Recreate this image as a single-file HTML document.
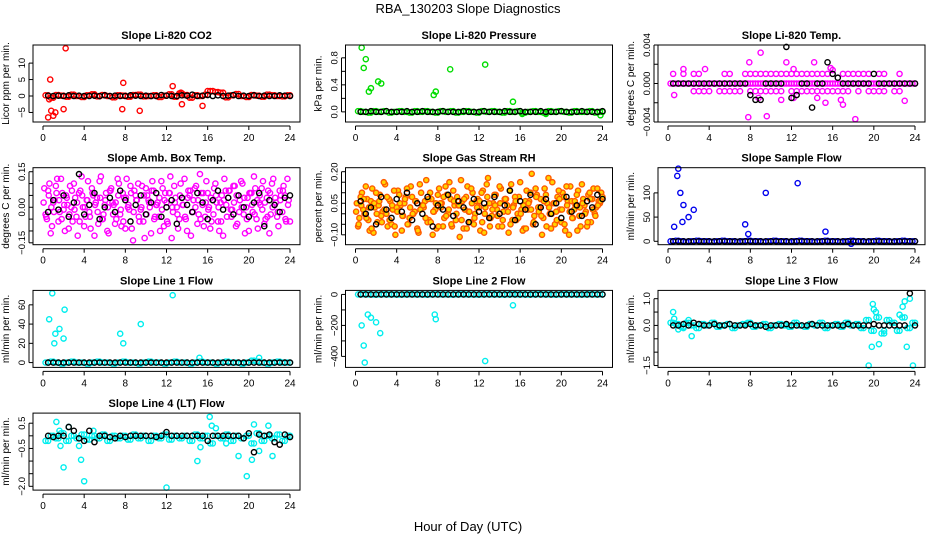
<!DOCTYPE html>
<html><head><meta charset="utf-8"><style>
html,body{margin:0;padding:0;background:#fff}
svg{display:block;font-family:"Liberation Sans",Arial,sans-serif}
</style></head><body>
<svg id="c" width="936" height="540" viewBox="0 0 936 540">
<text x="468" y="13" text-anchor="middle" font-size="13">RBA_130203  Slope Diagnostics</text>
<text x="468" y="531" text-anchor="middle" font-size="13">Hour of Day (UTC)</text>
</svg>
<script>
const xTicks=[0,4,8,12,16,20,24];
// P1 CO2
const p1Band=[0.2,-0.5,0.3,0.1,-0.2,0.4,0,-0.3,0.2,0.5,-0.1,0.3,0,-0.4,0.2,0.1,-0.2,0.3,0.4,-0.1,0,0.2,-0.3,0.1,0.5,-0.2,0.8,0.3,-0.5,0.2,0,0.4,1.5,1.2,1.0,-0.4,0.2,0.6,0,-0.3,0.3,0.1,-0.2,0.4,0.2,0,-0.1,0.2];
const p1OutH=[0.5,0.6,0.7,0.8,1.0,1.2,2.0,2.2,7.8,7.7,9.4,12.6,13.5,15.5,16.0,13.4];
const p1OutV=[-6.5,-1,5,-4.5,-6,-5,-4,14.5,4,-4,-4.5,3,-2.5,-3,1.5,1];
const p1Black=[0.1,0,0.1,0,0.2,0,0.1,0,0,0.1,0,0.2,0,0.1,0,0,0.2,0.1,0,0.1,0,0,0.3,0.1,0,0,0.2,0.1,0.4,0,0.1,0.3,0,0.2,0,0.1,0.3,0,0.1,0,0.2,0,0.1,0,0,0.2,0.1,0];
// P2 Pressure
const p2Band=[0.01,0,-0.01,0.01,0,0.01,-0.01,0,0.01,0,-0.01,0.01,0,0.01,0,-0.01,0.01,0,0.01,-0.01,0,0.01,0,-0.01,0.01,0,0.01,0,-0.01,0.01,0,0.01,-0.01,0,0.01,0,-0.01,0.01,0,0.01,0,-0.01,0.01,0,0,0.01,-0.01,0];
const p2OutH=[0.6,0.8,1.0,1.3,1.5,2.2,2.5,7.6,7.8,9.2,12.6,15.3,16.2,18.5,23.8];
const p2OutV=[0.95,0.65,0.78,0.3,0.35,0.45,0.42,0.25,0.3,0.63,0.7,0.15,-0.03,-0.03,-0.05];
const p2Black=[0,0,0.01,0,0,0.01,0,0,0,0.01,0,0,0.01,0,0,0,0.01,0,0,0,0.01,0,0,0,0.01,0,0,0,0.01,0,0,0.01,0,0,0,0.01,0,0,0,0.01,0,0,0,0.01,0,0,0,0.01];
// P3 Temp
const p3Band=[0,0,0,0,0,0,0,0,0,0,0,0,0,0,0,0,0,0,0,0,0,0,0,0,0,0,0,0,0,0,0,0,0,0,0,0,0,0,0,0,0,0,0,0,0,0,0,0];
const p3OutH=[0.5,1.5,2.5,3,5.5,6,7.5,8,8.5,9,9.5,10,10.5,11,11.5,12,12.5,13,13.5,14,14.5,15,15.5,17,17.5,18,18.5,19,19.5,20.5,21,22.5,2.5,3,3.5,4,5,5.5,6,6.5,7,8,8.5,9,9.5,10,10.5,11,12,12.5,13,13.5,14,14.5,15,15.5,16,16.5,17,17.5,18.5,19.5,20,20.5,21,22,22.5,1.5,3.6,7.8,9.0,8.8,11.5,14.2,14.5,16.0,15.8,17.0,16.8,12.2,7.9,18.2,23.0,0.6,12.2,9.6,11.0,15.3];
const p3OutV=[0.001,0.001,0.001,0.001,0.001,0.001,0.001,0.001,0.001,0.001,0.001,0.001,0.001,0.001,0.001,0.001,0.001,0.001,0.001,0.001,0.001,0.001,0.001,0.001,0.001,0.001,0.001,0.001,0.001,0.001,0.001,0.001,-0.0008,-0.0008,-0.0008,-0.0008,-0.0008,-0.0008,-0.0008,-0.0008,-0.0008,-0.0008,-0.0008,-0.0008,-0.0008,-0.0008,-0.0008,-0.0008,-0.0008,-0.0008,-0.0008,-0.0008,-0.0008,-0.0008,-0.0008,-0.0008,-0.0008,-0.0008,-0.0008,-0.0008,-0.0008,-0.0008,-0.0008,-0.0008,-0.0008,-0.0008,-0.0008,0.0015,0.0015,-0.0035,0.0032,-0.0015,0.0022,0.0022,-0.0015,0.0014,0.0016,-0.0022,-0.0017,-0.0015,0.0022,-0.0037,-0.0018,-0.0012,0.0015,-0.0034,-0.0017,-0.002,-0.0006];
const p3Black=[0,0,0,0,0,0,0,0,0,0,0,0,0,0,0,-0.0012,-0.0017,-0.0017,0,0,0,0,0.0038,-0.0015,-0.0012,0,0,-0.0025,0,0,0.0022,0.001,0.0006,0,0,0,0,0,0,0.001,0,0,0,0,0,0,0,0];
// P4 Amb Box
const p4A=[0.08,-0.05,0.10,-0.08,0.03,0.12,-0.02,0.06,-0.10,0.01,0.09,-0.06,0.04,-0.12,0.07,0.00,-0.04,0.11,-0.09,0.05,0.02,-0.07,0.13,-0.03,0.06,-0.11,0.08,0.01,-0.05,0.10,-0.08,0.04,0.12,-0.01,-0.09,0.07,0.03,-0.06,0.09,-0.13,0.05,0.00,0.11,-0.04,0.02,-0.10,0.08,0.06,-0.07,0.13,-0.02,0.04,-0.09,0.10,0.01,-0.05,0.07,-0.12,0.03,0.09,-0.03,0.06,-0.08,0.11,0.00,-0.06,0.08,0.02,-0.10,0.05,0.12,-0.04,0.07,-0.01,0.09,-0.07,0.03,0.10,-0.11,0.04,0.06,-0.02,0.08,-0.09,0.01,0.11,-0.05,0.07,-0.03,0.12,0.02,-0.08,0.05,0.09,-0.06,0.03];
const p4B=[-0.03,0.07,-0.11,0.02,0.09,-0.06,0.12,-0.01,0.05,-0.09,0.00,0.10,-0.04,0.06,0.13,-0.08,0.03,-0.02,0.08,-0.12,0.04,0.11,-0.05,0.01,-0.10,0.07,0.02,-0.07,0.12,-0.03,0.06,-0.09,0.00,0.09,-0.14,0.05,0.10,-0.01,-0.06,0.08,0.03,-0.11,0.07,0.01,-0.04,0.11,-0.08,0.02,0.06,-0.13,0.09,0.00,-0.05,0.04,0.12,-0.10,0.05,-0.02,0.08,-0.07,0.14,0.01,-0.04,0.06,-0.09,0.03,0.10,-0.06,0.02,-0.12,0.07,0.04,-0.01,0.09,-0.08,0.05,0.11,-0.03,0.00,-0.10,0.06,0.13,-0.05,0.02,0.08,-0.07,0.04,-0.11,0.10,0.01,-0.04,0.07,-0.02,0.05,0.12,-0.06];
const p4C=[0.02,-0.04,0.05,0.00,-0.02,0.06,0.03,-0.05,0.01,0.04,-0.03,0.07,-0.01,0.02,-0.06,0.05,0.00,0.03,-0.04,0.06,0.01,-0.02,0.04,-0.05,0.03,0.00,0.07,-0.03,0.02,0.05,-0.01,-0.06,0.04,0.01,0.06,-0.02,0.03,-0.04,0.00,0.05,-0.03,0.02,0.07,-0.05,0.01,0.04,-0.01,0.03,-0.06,0.06,0.00,0.02,-0.03,0.05,0.01,-0.04,0.04,0.07,-0.02,0.00,0.03,-0.05,0.06,0.02,-0.01,0.04,-0.03,0.05,0.00,-0.06,0.03,0.01,0.07,-0.04,0.02,0.05,-0.02,0.00,0.04,-0.05,0.06,0.01,-0.03,0.03,0.05,-0.01,0.02,-0.04,0.06,0.00,0.04,-0.02,0.03,0.07,-0.05,0.01];
const p4Black=[-0.02,0.03,-0.01,0.05,-0.04,0.02,0.14,-0.03,0.01,0.06,-0.05,0.00,0.04,-0.02,0.07,0.03,-0.06,0.01,0.05,-0.03,0.02,0.06,-0.04,0.00,0.03,-0.07,0.04,0.01,-0.02,0.06,0.02,-0.05,0.03,0.07,-0.01,0.04,-0.03,0.05,0.00,-0.04,0.02,0.06,-0.08,0.03,0.01,-0.02,0.04,0.05];
// P5 RH
const p5A=[0.05,-0.02,0.10,0.00,0.07,-0.08,0.12,0.03,-0.04,0.09,0.01,0.14,-0.06,0.06,0.02,-0.10,0.11,0.04,-0.01,0.08,-0.05,0.13,0.00,0.06,-0.09,0.10,0.03,0.16,-0.03,0.07,0.01,-0.07,0.12,0.05,-0.02,0.09,0.15,-0.06,0.04,0.08,-0.11,0.06,0.02,0.13,-0.04,0.10,0.00,0.07,-0.08,0.11,0.03,0.17,-0.02,0.05,0.09,-0.06,0.12,0.01,0.07,-0.09,0.14,0.04,-0.03,0.08,0.02,-0.07,0.11,0.06,0.19,-0.01,0.09,0.03,-0.10,0.12,0.05,0.00,0.15,-0.05,0.08,0.02,0.10,-0.08,0.06,0.13,-0.02,0.04,0.11,-0.06,0.07,0.01,0.09,-0.04,0.12,0.03,0.06,0.10];
const p5B=[-0.06,0.08,0.02,0.13,-0.03,0.06,-0.09,0.10,0.04,-0.01,0.15,0.00,0.07,-0.05,0.11,0.03,0.09,-0.08,0.05,0.12,-0.02,0.08,0.01,-0.07,0.14,0.04,0.06,-0.04,0.10,-0.10,0.02,0.09,0.05,-0.06,0.13,0.00,0.07,0.11,-0.03,0.04,0.16,-0.07,0.08,0.01,0.12,-0.05,0.06,0.03,0.10,-0.09,0.14,0.05,-0.01,0.09,0.02,0.13,-0.06,0.07,0.04,0.11,-0.03,0.08,0.00,0.15,-0.08,0.06,0.02,0.10,-0.05,0.12,0.03,0.07,-0.02,0.09,0.17,-0.07,0.05,0.01,0.11,-0.04,0.08,0.13,-0.10,0.06,0.02,0.09,-0.01,0.14,0.04,-0.06,0.10,0.07,0.00,0.12,0.05,0.08];
const p5C=[0.01,-0.05,0.04,0.07,-0.02,0.03,-0.07,0.05,0.00,0.06,-0.04,0.02,0.08,-0.03,0.04,-0.06,0.01,0.05,-0.01,0.07,-0.05,0.03,0.00,0.06,-0.08,0.02,0.04,-0.02,0.07,-0.04,0.01,0.05,-0.06,0.03,0.08,-0.01,0.02,-0.05,0.06,0.00,0.04,-0.03,0.07,-0.07,0.01,0.05,-0.02,0.03,0.06,-0.04,0.00,0.08,-0.06,0.02,0.04,-0.01,0.05,-0.03,0.07,0.01,-0.05,0.03,0.06,-0.02,0.00,0.04,-0.07,0.05,0.02,-0.04,0.08,0.01,-0.01,0.06,-0.06,0.03,0.00,0.05,-0.03,0.07,0.02,-0.05,0.04,0.01,-0.02,0.06,-0.08,0.03,0.05,0.00,-0.04,0.07,0.02,-0.01,0.04,0.06];
const p5Black=[0.06,0.00,0.03,-0.05,0.08,0.02,-0.02,0.07,0.01,0.10,-0.03,0.05,0.00,0.08,-0.06,0.04,0.02,0.09,-0.01,0.06,0.03,-0.04,0.07,0.01,0.05,-0.02,0.08,0.00,0.04,0.11,-0.03,0.06,0.02,0.09,-0.05,0.03,0.07,0.00,0.05,-0.02,0.08,0.01,0.04,-0.01,0.06,0.03,0.09,0.07];
// P6 Sample flow
const p6Band=[0,1,0,-1,0,1,0,0,-1,0,1,0,0,-1,0,1,0,0,-1,0,1,0,0,-1,0,1,0,0,-1,0,1,0,0,-1,0,1,0,0,-1,0,1,0,0,-1,0,1,0,0];
const p6OutH=[0.6,0.9,1.0,1.2,1.4,1.5,2.0,2.5,7.5,7.8,9.5,12.6,15.3,17.8];
const p6OutV=[30,135,150,100,40,75,50,65,35,15,100,120,20,-5];
const p6Black=[0,0,0,0,0,0,0,0,0,0,0,0,0,0,0,0,0,0,0,0,0,0,0,0,0,0,0,0,0,0,0,0,0,0,0,0,0,0,0,0,0,0,0,0,0,0,0,0];
// P7 Line1
const p7Band=[0,1,0,-1,0,1,0,0,-1,0,1,0,0,-1,0,1,0,0,-1,0,1,0,0,-1,0,1,0,0,-1,0,1,0,0,-1,0,1,0,0,-1,0,2,1,0,-1,0,1,0,0];
const p7OutH=[0.6,0.9,1.1,1.2,1.6,2.0,2.1,7.5,7.8,9.5,12.6,15.2,21.0];
const p7OutV=[45,72,20,30,35,25,55,30,20,40,70,5,5];
const p7Black=[0,0,0,0,0,0,0,0,0,0,0,0,0,0,0,0,0,0,0,0,0,0,0,0,0,0,0,0,0,0,0,0,0,0,0,0,0,0,0,0,0,0,0,0,0,0,0,0];
// P8 Line2
const p8Band=[0,1,0,-1,0,1,0,0,-1,0,1,0,0,-1,0,1,0,0,-1,0,1,0,0,-1,0,1,0,0,-1,0,1,0,0,-1,0,1,0,0,-1,0,1,0,0,-1,0,1,0,0];
const p8OutH=[0.6,0.9,1.2,1.5,2.0,2.4,7.7,7.8,12.6,15.3,0.8];
const p8OutV=[-200,-440,-130,-150,-180,-250,-130,-160,-430,-70,-330];
const p8Black=[0,0,0,0,0,0,0,0,0,0,0,0,0,0,0,0,0,0,0,0,0,0,0,0,0,0,0,0,0,0,0,0,0,0,0,0,0,0,0,0,0,0,0,0,0,0,0,0];
// P9 Line3
const p9Band=[0.1,0.05,-0.05,0.1,0,-0.1,0.05,0,0.1,-0.05,0,0.05,-0.1,0,0.05,0.1,-0.05,0,0.05,-0.1,0,0.05,0,-0.05,0.1,0,-0.05,0.05,0,0.1,-0.1,0,0.05,-0.05,0.1,0,0.05,-0.1,0.2,-0.2,0.3,-0.3,0.2,0.1,-0.2,0.3,-0.1,0.1];
const p9OutH=[0.5,0.6,1.0,1.5,2.0,2.3,19.5,19.8,20.0,20.2,20.5,21.0,22.5,23.0,23.2,23.5,23.8,19.9,22.8];
const p9OutV=[0.5,0.25,-0.15,-0.1,0.2,-0.4,-1.5,-0.8,0.6,0.5,-0.7,-0.2,0.4,0.9,-0.8,1.0,-1.5,0.8,0.7];
const p9Black=[0,0,0.05,0,0.1,0.05,0,0,0.05,0,0,0.05,0,0,0,0.05,0,0,-0.05,0,0,0,0.05,0,0,0,0,0.05,0,0,0,0,0,0,0.05,0,0,0,0,0.05,0,0,0,0,0,0,1.2,0];
// P10 Line4
const p10Band=[-0.2,0,-0.1,0.1,-0.2,0,-0.1,0.05,-0.15,0,-0.1,0.05,-0.2,0,-0.1,0,-0.15,0.05,-0.1,0,-0.2,0,-0.1,0.05,-0.15,0,-0.1,0,-0.2,0.05,-0.1,0,-0.3,0,-0.1,0.05,-0.2,0,-0.1,0,-0.3,0.1,-0.2,0,-0.1,0.05,-0.2,0];
const p10OutH=[1.3,1.7,2.0,2.5,3.5,3.7,4.0,15.0,15.3,16.2,16.4,16.8,17.8,19.0,19.8,20.3,20.5,21.0,21.9,22.3,12.0,1.6,4.9];
const p10OutV=[0.55,-0.4,-1.25,0.35,-0.4,-0.95,-1.8,-1.0,-0.45,0.75,0.4,0.3,-0.3,-0.8,-1.6,-0.95,0.45,-0.6,0.4,-0.8,-2.05,0.2,0.2];
const p10Black=[0,-0.05,0,0,0.35,0.2,-0.1,-0.2,0.2,-0.25,0,0,-0.05,-0.1,0,-0.05,0,0,0,0,0,-0.05,0,0.15,0,0,0,0,0,0,0,-0.2,0,0,0,0,0,0,-0.1,0.1,-0.65,0.05,0,0.05,-0.25,-0.35,0.05,-0.05];

const panels=[
 {t:"Slope Li-820 CO2",yl:"Licor ppm per min.",y:[-7.9,15.5],ticks:[-5,0,5,10],labs:["\u22125","0","5","10"],col:"#ff0000",band:p1Band,oh:p1OutH,ov:p1OutV,blk:p1Black},
 {t:"Slope Li-820 Pressure",yl:"kPa per min.",y:[-0.15,0.99],ticks:[0,0.2,0.4,0.6,0.8],labs:["0.0","","0.4","","0.8"],col:"#00dd00",band:p2Band,oh:p2OutH,ov:p2OutV,blk:p2Black},
 {t:"Slope Li-820 Temp.",yl:"degrees C per min.",y:[-0.004,0.004],ticks:[-0.004,-0.002,0,0.002,0.004],labs:["\u22120.004","","0.000","","0.004"],col:"#ff00ff",band:p3Band,oh:p3OutH,ov:p3OutV,blk:p3Black},
 {t:"Slope Amb. Box Temp.",yl:"degrees C per min.",y:[-0.158,0.167],ticks:[-0.15,-0.1,-0.05,0,0.05,0.1,0.15],labs:["\u22120.15","","","0.00","","","0.15"],col:"#ff00ff",a:p4A,b:p4B,c:p4C,blk:p4Black},
 {t:"Slope Gas Stream RH",yl:"percent per min.",y:[-0.147,0.219],ticks:[-0.1,-0.05,0,0.05,0.1,0.15,0.2],labs:["\u22120.10","","","0.05","","","0.20"],col:"#ff5a00",fill:"#ffd400",a:p5A,b:p5B,c:p5C,blk:p5Black},
 {t:"Slope Sample Flow",yl:"ml/min per min.",y:[-7,152],ticks:[0,50,100],labs:["0","50","100"],col:"#0000ee",band:p6Band,oh:p6OutH,ov:p6OutV,blk:p6Black},
 {t:"Slope Line 1 Flow",yl:"ml/min per min.",y:[-5,75],ticks:[0,20,40,60],labs:["0","20","40","60"],col:"#00eeee",band:p7Band,oh:p7OutH,ov:p7OutV,blk:p7Black},
 {t:"Slope Line 2 Flow",yl:"ml/min per min.",y:[-471,26],ticks:[0,-100,-200,-300,-400],labs:["0","","\u2212200","","\u2212400"],col:"#00eeee",band:p8Band,oh:p8OutH,ov:p8OutV,blk:p8Black},
 {t:"Slope Line 3 Flow",yl:"ml/min per min.",y:[-1.57,1.31],ticks:[-1.5,-1,-0.5,0,0.5,1],labs:["\u22121.5","","","0.0","","1.0"],col:"#00eeee",band:p9Band,oh:p9OutH,ov:p9OutV,blk:p9Black},
 {t:"Slope Line 4 (LT) Flow",yl:"ml/min per min.",y:[-2.15,0.9],ticks:[0.5,0,-0.5,-1,-1.5,-2],labs:["0.5","","\u22120.5","","","\u22122.0"],col:"#00eeee",band:p10Band,oh:p10OutH,ov:p10OutV,blk:p10Black}
];
const svg=document.getElementById('c');
const NS="http://www.w3.org/2000/svg";
function mk(tag,attrs,parent){const e=document.createElementNS(NS,tag);for(const k in attrs)e.setAttribute(k,attrs[k]);parent.appendChild(e);return e;}
panels.forEach((p,i)=>{
 const col=i%3,row=Math.floor(i/3);
 const L=33+col*312.5,R=L+267,T=45+row*122.7,B=T+77;
 const xs=h=>L+10+h*(247/24);
 const ys=v=>B-(v-p.y[0])/(p.y[1]-p.y[0])*(B-T);
 const g=mk('g',{},svg);
 
 
 const tt=mk('text',{x:(L+R)/2,y:T-6,'text-anchor':'middle','font-size':'11','font-weight':'bold'},g);
 tt.textContent=p.t;
 
 
 const yl=mk('text',{x:0,y:0,'text-anchor':'middle','font-size':'10',transform:`translate(${L-24},${(T+B)/2}) rotate(-90)`},g);
 yl.textContent=p.yl;
 
 
 const pts=mk('g',{fill:'none','stroke-width':'1.4'},g);
 
 
 function dot(h,v,c,name,f){
  const yy=ys(v); if(yy<T-3||yy>B+3)return;
  const d=mk('circle',{cx:xs(h),cy:yy,r:2.6,stroke:c,fill:f||'none'},pts);
  
  
 }
 if(p.a){
  p.a.forEach((v,k)=>dot(0.125+k*0.25,v,p.col,'point',p.fill));
  p.b.forEach((v,k)=>dot(0.25+k*0.25,v,p.col,'point',p.fill));
  p.c.forEach((v,k)=>dot(0.06+k*0.25,v,p.col,'point',p.fill));
 } else {
  p.band.forEach((v,k)=>{dot(0.25+k*0.5,v,p.col,'point');dot(0.5+k*0.5,v,p.col,'point');});
  p.oh.forEach((h,k)=>dot(h,p.ov[k],p.col,'outlier-point'));
 }
 p.blk.forEach((v,k)=>dot(0.5+k*0.5,v,'#000','black-point'));
 const bx=mk('rect',{x:L,y:T,width:R-L,height:B-T,fill:'none',stroke:'#000','stroke-width':'1'},g);
 
 
 p.ticks.forEach((v,k)=>{
  const yy=ys(v);
  mk('line',{x1:L-4,x2:L,y1:yy,y2:yy,stroke:'#000'},g);
  if(p.labs[k]){const t=mk('text',{x:0,y:0,'text-anchor':'middle','font-size':'9.5',transform:`translate(${L-8},${yy}) rotate(-90)`},g);t.textContent=p.labs[k];
  
  }
 });
 mk('line',{x1:L-4,x2:L-4,y1:ys(Math.min(...p.ticks)),y2:ys(Math.max(...p.ticks)),stroke:'#000'},g);
 mk('line',{x1:xs(0),x2:xs(24),y1:B+4,y2:B+4,stroke:'#000'},g);
 xTicks.forEach(h=>{
  mk('line',{x1:xs(h),x2:xs(h),y1:B+4,y2:B+8,stroke:'#000'},g);
  const t=mk('text',{x:xs(h),y:B+19,'text-anchor':'middle','font-size':'10'},g);t.textContent=h;
  
  
 });
});
</script>
</body></html>
